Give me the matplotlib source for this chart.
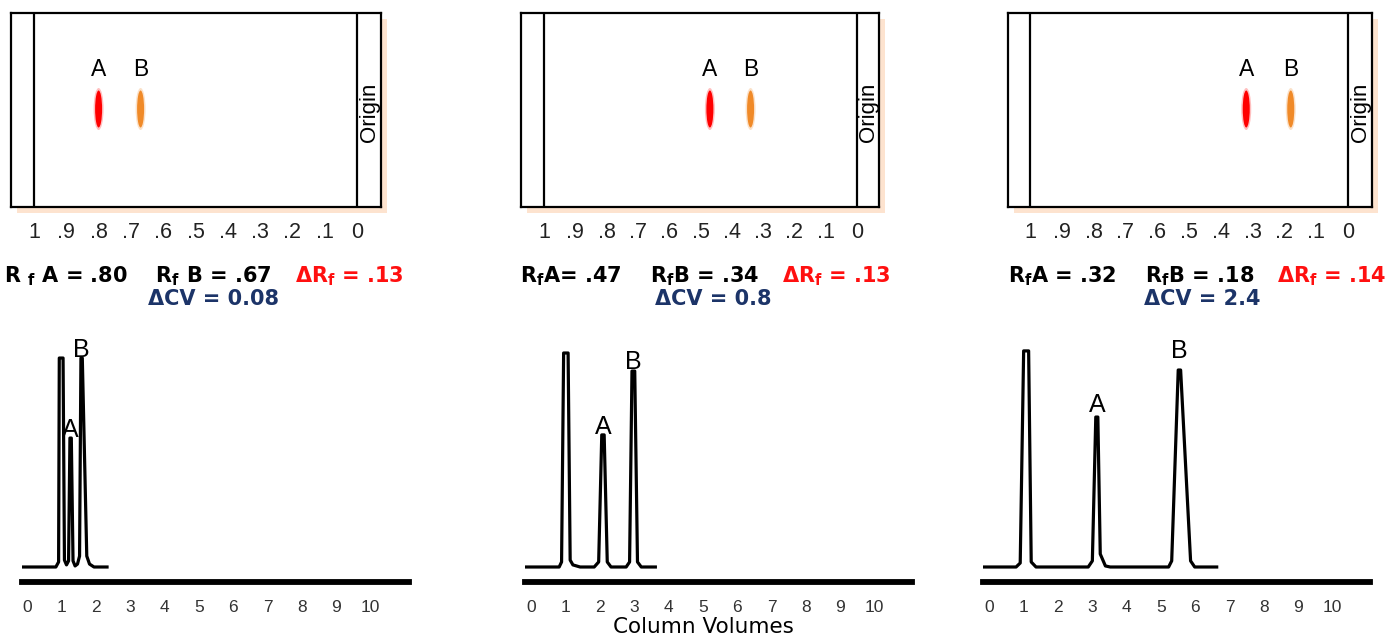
import matplotlib
matplotlib.use("Agg")
import matplotlib.pyplot as plt
from matplotlib.patches import Ellipse, Rectangle
from matplotlib.transforms import IdentityTransform

# ---------------- data ----------------
rf_ticks = [1, 0.9, 0.8, 0.7, 0.6, 0.5, 0.4, 0.3, 0.2, 0.1, 0]
rf_tick_labels = ["1", ".9", ".8", ".7", ".6", ".5", ".4", ".3", ".2", ".1", "0"]

rf_A = [0.80, 0.47, 0.32]
rf_B = [0.67, 0.34, 0.18]
rf_text_black = [r"R $_\mathbf{f}$ A = .80    R$_\mathbf{f}$ B = .67    ",
                 r"R$_\mathbf{f}$A= .47    R$_\mathbf{f}$B = .34    ",
                 r"R$_\mathbf{f}$A = .32    R$_\mathbf{f}$B = .18    "]
delta_rf_text = [r"ΔR$_\mathbf{f}$ = .13", r"ΔR$_\mathbf{f}$ = .13", r"ΔR$_\mathbf{f}$ = .14"]
delta_cv_text = ["ΔCV = 0.08", "ΔCV = 0.8", "ΔCV = 2.4"]

cv_ticks = list(range(0, 11))
cv_tick_labels = [str(v) for v in cv_ticks]

chrom1_cv = [-0.125, 0.84, 0.92, 0.94, 1.05, 1.09, 1.15, 1.21, 1.25, 1.29, 1.34, 1.40,
             1.47, 1.53, 1.57, 1.61, 1.74, 1.82, 1.95, 2.33]
chrom1_sig = [0, 0, 2.4, 99.5, 99.5, 3.3, 1.0, 2.9, 61.4, 61.4, 2.9, 0.5,
              1.4, 5.2, 99.5, 99.5, 5.2, 1.4, 0, 0]

chrom2_cv = [-0.175, 0.82, 0.89, 0.95, 1.08, 1.14, 1.22, 1.43, 1.84, 1.97, 2.06, 2.13,
             2.22, 2.33, 2.77, 2.87, 2.94, 3.02, 3.10, 3.21, 3.62]
chrom2_sig = [0, 0, 2.4, 101.9, 101.9, 3.3, 1.0, 0, 0, 2.4, 62.9, 62.9,
              2.4, 0, 0, 2.4, 93.3, 93.3, 2.4, 0, 0]

chrom3_cv = [-0.2, 0.78, 0.90, 1.00, 1.145, 1.22, 1.36, 2.88, 3.00, 3.10, 3.16, 3.23,
             3.38, 3.52, 5.22, 5.31, 5.50, 5.57, 5.86, 5.98, 6.62]
chrom3_sig = [0, 0, 1.9, 102.9, 102.9, 2.4, 0, 0, 2.9, 71.4, 71.4, 6.2,
              0.5, 0, 0, 2.9, 93.8, 93.8, 2.9, 0, 0]

chrom_cv = [chrom1_cv, chrom2_cv, chrom3_cv]
chrom_sig = [chrom1_sig, chrom2_sig, chrom3_sig]

peakA_cv = [1.27, 2.09, 3.13]
peakA_sig = [61.4, 62.9, 71.4]
peakB_cv = [1.59, 2.98, 5.53]
peakB_sig = [99.5, 93.3, 93.8]

# ---------------- layout (pixels, top-left origin) ----------------
W, H = 1391, 636
fig = plt.figure(figsize=(W / 100, H / 100), dpi=100)
fig.patch.set_facecolor("white")


def fr(x0, y0, x1, y1):
    return [x0 / W, 1 - y1 / H, (x1 - x0) / W, (y1 - y0) / H]


plate_outer = [(11, 381), (521, 879), (1008, 1372)]
plate_inner = [(34, 357), (544, 857), (1030, 1348)]
plate_y = (13, 207)
line_center = [204, 705, 1197]
cv_center = [213, 713, 1202]
chrom_x = [(22, 409), (525, 912), (983, 1370)]
chrom_zero = [27, 531, 989.3]
cv_px = 34.35
labA_off = [-3, -3, 0]
labB_off = [-3, -2, 5]

RED = "#ff1010"
NAVY = "#1c3468"
SHADOW = "#fde3cf"

for i in range(3):
    ox0, ox1 = plate_outer[i]
    ix0, ix1 = plate_inner[i]
    py0, py1 = plate_y
    # shadow
    fig.add_artist(Rectangle((ox0 + 6, H - py1 - 6), ox1 - ox0, py1 - py0,
                             transform=IdentityTransform(), facecolor=SHADOW,
                             edgecolor="none", zorder=-5))
    ax = fig.add_axes(fr(ox0, py0, ox1, py1))
    scale = ix1 - ix0
    ax.set_xlim(1 + (ix0 - ox0) / scale, -(ox1 - ix1) / scale)
    ax.set_ylim(0, 1)
    for s in ax.spines.values():
        s.set_linewidth(1.6)
    ax.axvline(1, color="black", lw=1.6)
    ax.axvline(0, color="black", lw=1.6)
    ax.set_xticks(rf_ticks)
    ax.set_xticklabels(rf_tick_labels, fontsize=15.5, family="Liberation Sans", color="#222222")
    ax.tick_params(axis="x", length=0, pad=11)
    ax.set_yticks([])
    yc = (py1 - 109) / (py1 - py0)
    for rf, col in ((rf_A[i], "#ff0000"), (rf_B[i], "#f08a28")):
        ax.add_patch(Ellipse((rf, yc), 10 / scale, 42 / 194, facecolor=col, alpha=0.25,
                             edgecolor="none"))
        ax.add_patch(Ellipse((rf, yc), 7 / scale, 37 / 194, facecolor=col, edgecolor="none"))
    yl = (py1 - 70) / (py1 - py0)
    ax.text(rf_A[i], yl, "A", ha="center", va="center", fontsize=16.5, family="Liberation Sans")
    ax.text(rf_B[i], yl, "B", ha="center", va="center", fontsize=16.5, family="Liberation Sans")
    ax.text(((ox1 + ix1) / 2 - ox0) / (ox1 - ox0), (py1 - 112) / (py1 - py0), "Origin",
            rotation=90, ha="center", va="center", fontsize=16, family="Liberation Sans",
            transform=ax.transAxes)

    # chromatogram
    cx0, cx1 = chrom_x[i]
    cax = fig.add_axes(fr(cx0, 330, cx1, 582))
    cax.set_xlim((cx0 - chrom_zero[i]) / cv_px, (cx1 - chrom_zero[i]) / cv_px)
    cax.set_ylim(-15 / 2.1, (567 - 330) / 2.1)
    cax.patch.set_alpha(0)
    for k in ("top", "left", "right"):
        cax.spines[k].set_visible(False)
    cax.spines["bottom"].set_linewidth(4.2)
    cax.set_yticks([])
    cax.set_xticks(cv_ticks)
    cax.set_xticklabels(cv_tick_labels, fontsize=12.5, family="Liberation Sans", color="#333333")
    cax.tick_params(axis="x", length=0, pad=13)
    cax.plot(chrom_cv[i], chrom_sig[i], color="black", lw=2.3, solid_joinstyle="round")
    cax.annotate("A", (peakA_cv[i], peakA_sig[i]), xytext=(0, labA_off[i]),
                 textcoords="offset points",
                 ha="center", va="bottom", fontsize=18, family="Liberation Sans")
    cax.annotate("B", (peakB_cv[i], peakB_sig[i]), xytext=(0, labB_off[i]),
                 textcoords="offset points",
                 ha="center", va="bottom", fontsize=18, family="Liberation Sans")

fig.text(703 / W, 1 - 627 / H, "Column Volumes", ha="center", va="center",
         fontsize=15.5, family="DejaVu Sans")

# ---------------- Rf summary lines (multi-colour) ----------------
renderer = fig.canvas.get_renderer()
for i in range(3):
    parts = [(rf_text_black[i], "black"), (delta_rf_text[i], RED)]
    arts = []
    for txt, col in parts:
        t = fig.text(0, 0, txt, color=col, fontsize=15, fontweight="bold",
                     family="DejaVu Sans", ha="left", va="baseline",
                     transform=IdentityTransform())
        arts.append(t)
    widths = [a.get_window_extent(renderer).width for a in arts]
    x = line_center[i] - sum(widths) / 2
    for a, w in zip(arts, widths):
        a.set_position((x, H - 282))
        x += w
    fig.text(cv_center[i], H - 305, delta_cv_text[i], color=NAVY, fontsize=15,
             fontweight="bold", family="DejaVu Sans", ha="center", va="baseline",
             transform=IdentityTransform())

fig.savefig("out.png", dpi=100)
